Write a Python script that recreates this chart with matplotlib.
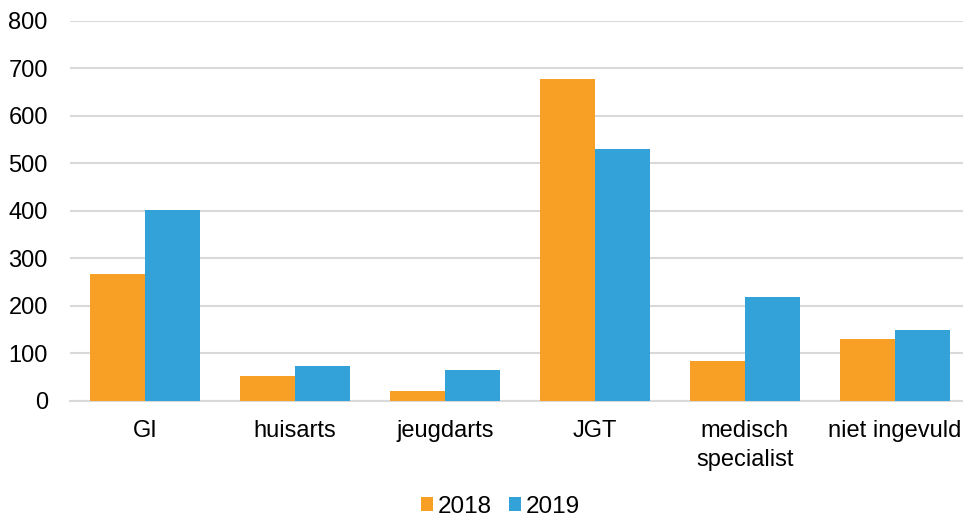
import numpy as np
from matplotlib import pyplot as plt

plt.rcParams['font.family'] = ['Liberation Sans', 'DejaVu Sans']

categories = ['GI', 'huisarts', 'jeugdarts', 'JGT', 'medisch\nspecialist', 'niet ingevuld']
v2018 = [267, 52, 20, 677, 84, 130]
v2019 = [401, 74, 64, 529, 219, 149]

fig = plt.figure(figsize=(9.63, 5.2), dpi=100)
ax = fig.add_axes([70 / 963, (520 - 400.7) / 520, 900 / 963, 380 / 520])

x = np.arange(len(categories))
w = 0.367
ax.bar(x - w / 2, v2018, w, color='#F89F26', label='2018', zorder=3)
ax.bar(x + w / 2, v2019, w, color='#33A2D9', label='2019', zorder=3)

ax.set_xlim(-0.5, len(categories) - 0.5)
ax.set_ylim(0, 800)
ax.set_yticks(range(0, 801, 100))
ax.set_xticks(x)
ax.set_xticklabels(categories, va='top', linespacing=1.4)
ax.tick_params(length=0, labelsize=17, colors='black')
ax.tick_params(axis='x', pad=14)
ax.tick_params(axis='y', pad=16)
ax.grid(axis='y', color='#d9d9d9', lw=1.5, zorder=0)
for s in ['top', 'right', 'left']:
    ax.spines[s].set_visible(False)
ax.spines['bottom'].set_color('#d9d9d9')
ax.spines['bottom'].set_linewidth(1.5)

fig.legend(loc='center', bbox_to_anchor=(0.52, (520 - 507) / 520), ncol=2, frameon=False,
           fontsize=17.5, handlelength=0.5, handleheight=0.5, handletextpad=0.2,
           columnspacing=0.7, borderpad=0)

plt.savefig('out.png', dpi=100)
